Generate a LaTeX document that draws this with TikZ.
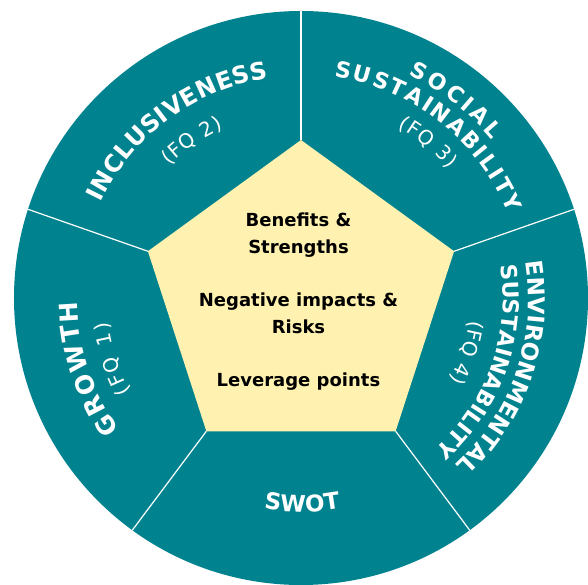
\documentclass[tikz,border=0pt]{standalone}
\usepackage{fontspec}
\setmainfont{DejaVu Sans}
\usetikzlibrary{shapes.geometric,decorations.text}
\definecolor{petroleo}{RGB}{0,131,143}
\definecolor{amarelo}{RGB}{255,242,176}
\tikzset{
  divisao/.style={draw=white, line width=1.2pt},
  rotulo/.style 2 args={decorate, decoration={text along path, text align={fit to path}, text color=white, text={|\bfseries\fontsize{#1}{#1}\selectfont|#2}}},
  subrotulo/.style={decorate, decoration={text along path, text align={fit to path}, text color=white, text={|\fontsize{20pt}{20pt}\selectfont|#1}}}
}
\begin{document}
\begin{tikzpicture}
  \useasboundingbox (-301pt,-287pt) rectangle (287pt,298pt);
  % Círculo e pentágono
  \node[circle, fill=petroleo, minimum size=574pt, inner sep=0pt, outer sep=0pt] (roda) at (0,0) {};
  \node[regular polygon, regular polygon sides=5, fill=amarelo, minimum size=322pt, inner sep=0pt, outer sep=0pt] (pent) at (0,-3pt) {};
  \node[font=\bfseries\fontsize{18pt}{26.7pt}\selectfont, align=center, inner sep=0pt] (centro) at (-2.5pt,-4pt)
    {Benefits \&\\Strengths\\[26.7pt]Negative impacts \&\\Risks\\[26.7pt]Leverage points};

  % Divisões
  \foreach \i/\a in {1/90, 2/162, 3/234, 4/306, 5/18}
    \draw[divisao] (pent.corner \i) -- (roda.\a);

  % Rótulos
  \path[rotulo={24pt}{INCLUSIVENESS}] (154.5:222pt) arc[start angle=154.5, end angle=98.3, radius=222pt];
  \path[subrotulo={(FQ 2)}] (134.9:186.5pt) arc[start angle=134.9, end angle=114.7, radius=186.5pt];
  \path[rotulo={22pt}{SOCIAL}] (64.3:248pt) arc[start angle=64.3, end angle=39.6, radius=248pt];
  \path[rotulo={22pt}{SUSTAINABILITY}] (81.5:224pt) arc[start angle=81.5, end angle=22.4, radius=224pt];
  \path[subrotulo={(FQ 3)}] (60.4:196pt) arc[start angle=60.4, end angle=41, radius=196pt];
  \path[rotulo={23pt}{ENVIRONMENTAL}] (9.1:227.6pt) arc[start angle=9.1, end angle=-45.8, radius=227.6pt];
  \path[rotulo={22pt}{SUSTAINABILITY}] (9.3:202pt) arc[start angle=9.3, end angle=-46.6, radius=202pt];
  \path[subrotulo={(FQ 4)}] (-7.5:170pt) arc[start angle=-7.5, end angle=-29, radius=170pt];
  \path[rotulo={25pt}{GROWTH}] (215.8:224pt) arc[start angle=215.8, end angle=180.8, radius=224pt];
  \path[subrotulo={(FQ 1)}] (208.8:194.5pt) arc[start angle=208.8, end angle=187.1, radius=194.5pt];
  \path[rotulo={23pt}{SWOT}] (260:214pt) arc[start angle=260, end angle=280.5, radius=214pt];
\end{tikzpicture}
\end{document}
